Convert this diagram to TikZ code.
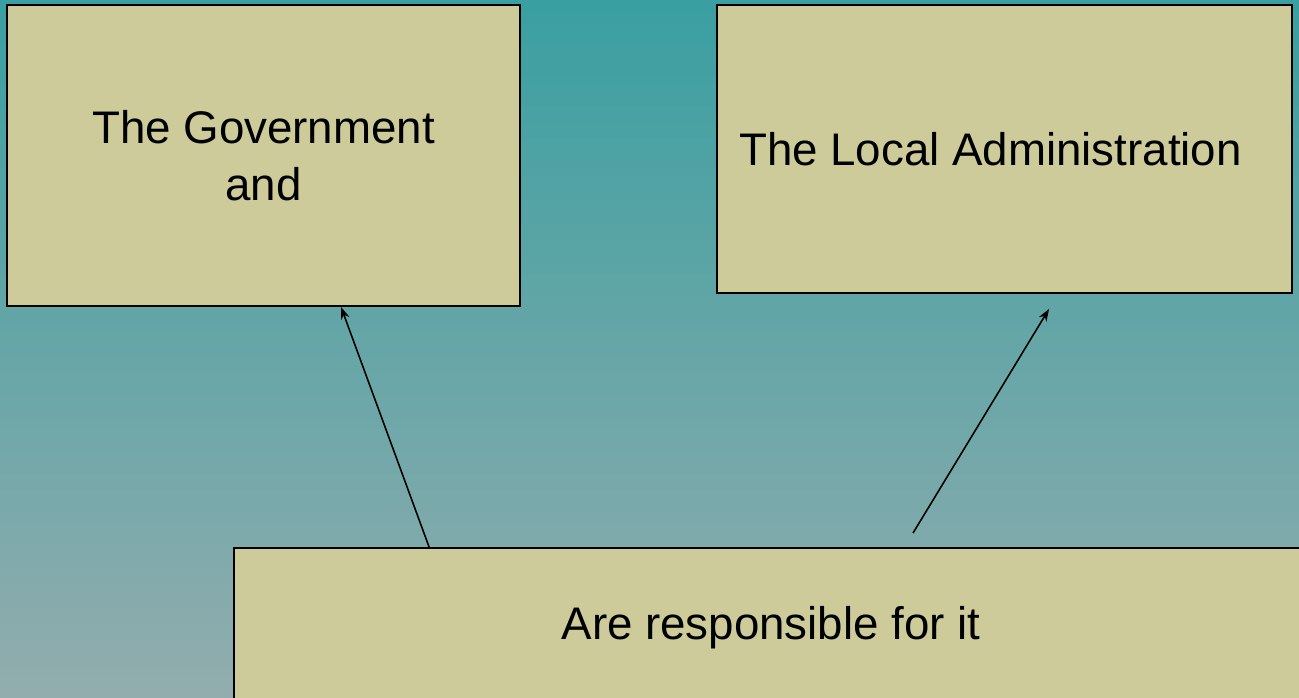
\documentclass[tikz,border=0pt]{standalone}
\usepackage{fontspec}
\setmainfont{Liberation Sans}
\usepackage{tikz}
\usetikzlibrary{arrows.meta, positioning}

\begin{document}
\begin{tikzpicture}[
    >=Stealth,
    x=0.02cm, y=-0.02cm,
]
\definecolor{slideTop}{HTML}{3A9FA1}
\definecolor{slideBottom}{HTML}{93ADAE}
\definecolor{boxFill}{HTML}{CCCB99}

\tikzset{
    panel/.style={
        rectangle, draw=black, line width=1.1pt, fill=boxFill,
        font=\fontsize{26}{32.4}\selectfont, align=center, text=black,
        inner sep=0pt,
    },
    link/.style={line width=0.9pt, draw=black,
        -{Stealth[length=7pt, width=5pt]}},
}

% slide background, also fixes the page size
\clip (0,0) rectangle (1299,697);
\shade[top color=slideTop, bottom color=slideBottom] (0,0) rectangle (1299,697);

\node[panel, minimum width=10.26cm, minimum height=6.02cm] (gov) at (263.5,155.5)
    {The Government\\and};
\node[panel, minimum width=11.5cm, minimum height=5.76cm] (local) at (1004.5,149)
    {\hspace*{-0.56cm}The Local Administration};
\node[panel, minimum width=21.48cm, minimum height=3.2cm] (resp) at (771,628)
    {Are responsible for it};

\coordinate (govEnd) at ([xshift=6.7cm]gov.south west);
\coordinate (respLeft) at ([xshift=3.92cm]resp.north west);
\coordinate (localEnd) at ([xshift=6.66cm, yshift=-0.3cm]local.south west);
\coordinate (respRight) at ([xshift=13.6cm, yshift=0.28cm]resp.north west);

\draw[link] (respLeft) -- (govEnd);
\draw[link] (respRight) -- (localEnd);

\end{tikzpicture}
\end{document}
